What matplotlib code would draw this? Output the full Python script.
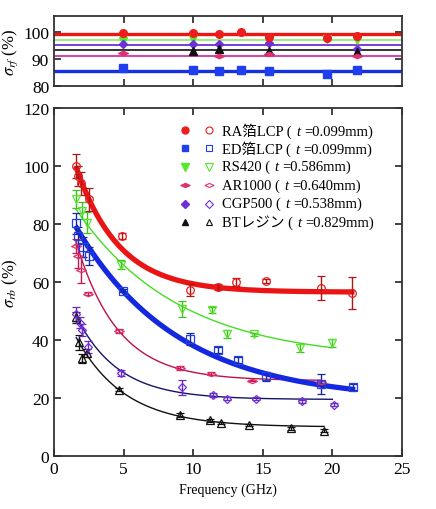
import numpy as np
import matplotlib
matplotlib.use("Agg")
import matplotlib.pyplot as plt
from matplotlib.path import Path

plt.rcParams['font.family'] = ['Liberation Serif', 'Noto Sans CJK JP']
plt.rcParams['mathtext.fontset'] = 'stix'

# ---------------- data ----------------
names = ["RA箔LCP", "ED箔LCP", "RS420", "AR1000", "CGP500", "BTレジン"]
thick = ["0.099", "0.099", "0.586", "0.640", "0.538", "0.829"]

# bottom panel: sigma_rb (%)
ra_f = [1.55, 1.75, 1.95, 2.5, 4.9, 9.8, 11.8, 13.1, 15.2, 19.2, 21.4]
ra_v = [100, 96.5, 94, 88.5, 75.8, 57.3, 58.3, 60, 60.3, 57.9, 56.2]
ra_e = [4, 3.5, 4, 4, 1, 2, 1, 1.5, 0.8, 4, 5.5]

ed_f = [1.6, 1.75, 2.1, 2.55, 4.93, 9.8, 11.8, 13.2, 15.2, 19.2, 21.45]
ed_v = [80.2, 76, 72, 69, 57, 40.3, 36.5, 33.2, 27.5, 24.8, 23.7]
ed_e = [3.5, 3, 3.5, 3, 0.5, 2, 1, 1, 1.5, 3.5, 1]

rs_f = [1.55, 2.0, 2.35, 4.8, 9.2, 11.35, 12.4, 14.4, 17.7, 20.0]
rs_v = [88.6, 84.6, 80.5, 66, 50.7, 50.3, 42, 42, 37.2, 39]
rs_e = [3, 3, 3.5, 1.5, 2.8, 1, 1.3, 0.5, 1.5, 1.5]

ar_f = [1.55, 1.7, 1.95, 2.47, 4.69, 9.05, 11.3, 14.2, 19.2]
ar_v = [72.5, 69, 64, 55.9, 43, 30.3, 28.3, 26, 25.4]
ar_e = [2.5, 4, 4.5, 0.5, 0.7, 0.8, 0.5, 0.3, 0.5]

cg_f = [1.58, 1.85, 2.0, 2.47, 4.79, 9.2, 11.4, 12.4, 14.5, 17.8, 20.1]
cg_v = [49, 46, 43.5, 37.5, 28.6, 23.7, 21, 19.7, 19.7, 18.8, 17.7]
cg_e = [2.5, 2, 2, 2, 1, 2.5, 0.8, 0.5, 0.5, 0.5, 0.5]

bt_f = [1.58, 1.82, 1.99, 2.4, 4.65, 9.05, 11.2, 12.0, 14.0, 17.0, 19.4]
bt_v = [47.8, 39.2, 33.7, 35.5, 22.9, 14.3, 12.3, 11.4, 10.8, 9.5, 8.7]
bt_e = [2, 2.5, 1.5, 1.5, 0.5, 0.7, 0.5, 0.3, 0.3, 0.5, 0.5]

# exponential fit curves a + b*exp(-f/c), with their range
fit_a = [56.5, 19.0, 33.0, 26.0, 19.5, 10.0]
fit_b = [72.0, 74.4, 64.5, 81.0, 48.9, 48.7]
fit_c = [3.1, 7.34, 7.4, 3.0, 3.0, 3.5]
fit_lo = [1.63, 1.63, 1.58, 1.58, 1.6, 1.6]
fit_hi = [21.4, 21.45, 20.0, 19.2, 20.0, 19.4]

# top panel: sigma_rf (%)
top_f = [4.95, 10.0, 11.85, 13.4, 15.45, 19.6, 21.8]
ra_rf = [99.9, 99.9, 99.3, 100.1, 98.4, 98.1, 98.6]
ed_rf = [86.7, 86.0, 85.7, 86.0, 85.7, 84.7, 86.0]
rs_rf = [97.0, 97.5, np.nan, np.nan, 97.2, 97.4, 97.2]
ar_rf = [92.5, np.nan, 91.2, np.nan, 92.0, np.nan, 91.4]
cg_rf = [95.8, 95.8, 95.8, np.nan, 96.2, np.nan, 94.0]
bt_rf = [np.nan, 93.1, 94.0, np.nan, 93.1, np.nan, 92.7]
rf_level = [99.3, 85.7, 97.2, 91.2, 95.4, 93.3]

# ---------------- styles ----------------
flat_diamond = Path([(-1, 0), (0, 0.45), (1, 0), (0, -0.45), (-1, 0)],
                    [Path.MOVETO, Path.LINETO, Path.LINETO, Path.LINETO, Path.CLOSEPOLY])
markers = ['o', 's', 'v', flat_diamond, 'D', '^']
msizes = [5.5, 5.5, 6, 7, 4.5, 5.5]
mcol = ['#ee1c1c', '#1f3fee', '#55e82a', '#e0306e', '#7030d8', '#111111']
ecol = ['#a81818', '#1a2a9a', '#40c020', '#c81850', '#6a28c8', '#111111']
fitcol = ['#ea1414', '#1428e0', '#44dd22', '#c0104a', '#141466', '#111111']
fitlw = [3.8, 3.8, 1.0, 1.0, 1.0, 1.0]
topcol = ['#ee1414', '#1430e0', '#88ee66', '#d020a0', '#6020d0', '#111111']
toplw = [2.4, 2.4, 1.2, 1.2, 1.2, 1.2]

bot = [(ra_f, ra_v, ra_e), (ed_f, ed_v, ed_e), (rs_f, rs_v, rs_e),
       (ar_f, ar_v, ar_e), (cg_f, cg_v, cg_e), (bt_f, bt_v, bt_e)]
tops = [ra_rf, ed_rf, rs_rf, ar_rf, cg_rf, bt_rf]

W, H = 436, 510
fig = plt.figure(figsize=(W / 100, H / 100), dpi=100)
ax_t = fig.add_axes([54 / W, 1 - 87.3 / H, 348 / W, 70 / H])
ax_b = fig.add_axes([54 / W, 1 - 457 / H, 348 / W, 348 / H])

# top panel
order = [2, 4, 5, 3, 1, 0]
for i in order:
    ax_t.axhline(rf_level[i], color=topcol[i], lw=toplw[i], zorder=2)
for i in order:
    ax_t.plot(top_f, tops[i], ls='none', marker=markers[i], ms=msizes[i],
              color=mcol[i], mec=mcol[i], zorder=3)

# bottom panel
for i in [5, 4, 3, 2, 1, 0]:
    f, v, e = bot[i]
    xs = np.linspace(fit_lo[i], fit_hi[i], 200)
    ax_b.plot(xs, fit_a[i] + fit_b[i] * np.exp(-xs / fit_c[i]),
              color=fitcol[i], lw=fitlw[i], zorder=2)
    ax_b.errorbar(f, v, yerr=e, ls='none', marker=markers[i], ms=msizes[i],
                  mfc='none', mec=mcol[i], mew=0.9, ecolor=ecol[i], elinewidth=1.0,
                  capsize=3, capthick=1.0, zorder=3)

for ax in (ax_t, ax_b):
    ax.set_xlim(0, 25)
    ax.tick_params(direction='in', which='both', top=True, right=True,
                   length=5, width=1.2, labelsize=12.5, color='#222222')
    for s in ax.spines.values():
        s.set_linewidth(1.3)
        s.set_color('#333333')

ax_t.set_ylim(80, 106)
ax_t.set_yticks([80, 90, 100])
ax_t.set_xticks([5, 10, 15, 20])
ax_t.tick_params(labelbottom=False)
ax_t.set_ylabel(r'$\sigma_{rf}$ (%)', fontsize=12, labelpad=2)

ax_b.set_ylim(0, 120)
ax_b.set_yticks(range(0, 121, 20))
ax_b.set_xticks(range(0, 26, 5))
ax_b.set_xlabel('Frequency (GHz)', fontsize=10)
ax_b.set_ylabel(r'$\sigma_{rb}$ (%)', fontsize=12, labelpad=2)

# legend built by hand: filled marker, open marker, label
x_fill, x_open, x_txt = 0.376, 0.445, 0.483
y0, dy = 0.937, 0.0529
fam = ['Liberation Serif', 'Noto Sans CJK JP']
fs = 10.5
for i in range(6):
    y = y0 - i * dy
    ax_b.plot([x_fill], [y], transform=ax_b.transAxes, marker=markers[i],
              ms=msizes[i] - 0.5, color=mcol[i], ls='none', clip_on=False)
    ax_b.plot([x_open], [y], transform=ax_b.transAxes, marker=markers[i],
              ms=msizes[i] - 0.5, mfc='none', mec=mcol[i], mew=0.8, ls='none', clip_on=False)
    t1 = ax_b.text(x_txt, y, f'{names[i]} (', transform=ax_b.transAxes,
                   ha='left', va='center', fontsize=fs, family=fam)
    t2 = ax_b.annotate('t', xy=(1, 0), xycoords=t1, xytext=(3.2, 0),
                       textcoords='offset points', ha='left', va='bottom',
                       fontsize=fs, family=fam, style='italic')
    ax_b.annotate(f'={thick[i]}mm)', xy=(1, 0), xycoords=t2, xytext=(2.8, 0),
                  textcoords='offset points', ha='left', va='bottom',
                  fontsize=fs, family=fam)

fig.savefig('out.png', dpi=100)
